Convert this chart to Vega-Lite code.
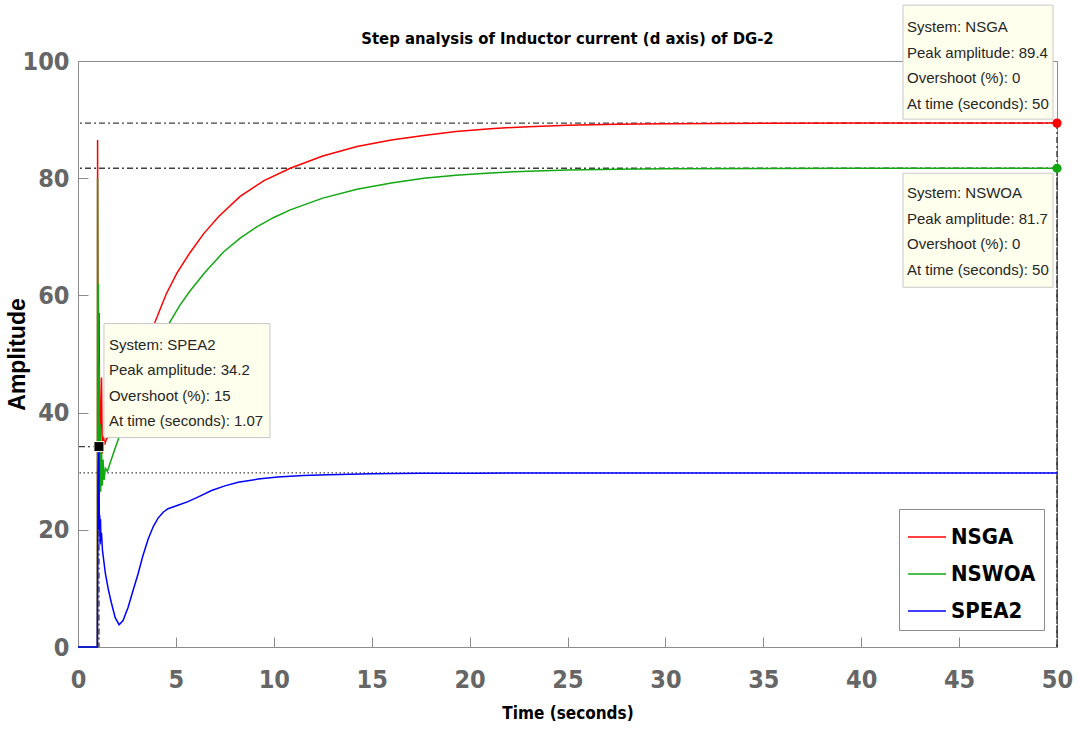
{
  "$schema": "https://vega.github.io/schema/vega-lite/v6.json",
  "width": 979,
  "height": 586,
  "autosize": {"type": "none"},
  "padding": {"left": 78, "top": 61, "right": 21, "bottom": 84},
  "background": "white",
  "title": {
    "text": "Step analysis of Inductor current (d axis) of DG-2",
    "font": "DejaVu Sans Condensed, Roboto Condensed, Liberation Sans Narrow, Liberation Sans, sans-serif",
    "fontSize": 16.5,
    "fontWeight": "bold",
    "color": "black",
    "baseline": "alphabetic",
    "offset": -57
  },
  "datasets": {
    "curves": [
      {"s": "NSGA", "t": 0, "v": 0},
      {"s": "NSGA", "t": 0.99, "v": 0},
      {"s": "NSGA", "t": 1.0, "v": 86.5},
      {"s": "NSGA", "t": 1.04, "v": 30},
      {"s": "NSGA", "t": 1.08, "v": 57},
      {"s": "NSGA", "t": 1.11, "v": 31},
      {"s": "NSGA", "t": 1.2, "v": 46},
      {"s": "NSGA", "t": 1.24, "v": 33},
      {"s": "NSGA", "t": 1.3, "v": 36},
      {"s": "NSGA", "t": 1.36, "v": 34.5},
      {"s": "NSGA", "t": 1.45, "v": 35.5},
      {"s": "NSGA", "t": 1.6, "v": 36},
      {"s": "NSGA", "t": 1.8, "v": 37.5},
      {"s": "NSGA", "t": 2.0, "v": 39.2},
      {"s": "NSGA", "t": 2.3, "v": 41.8},
      {"s": "NSGA", "t": 2.6, "v": 44.5},
      {"s": "NSGA", "t": 3.0, "v": 48},
      {"s": "NSGA", "t": 3.4, "v": 51.5},
      {"s": "NSGA", "t": 3.94, "v": 55.5},
      {"s": "NSGA", "t": 4.5, "v": 60.2},
      {"s": "NSGA", "t": 5.05, "v": 63.8},
      {"s": "NSGA", "t": 5.7, "v": 67.2},
      {"s": "NSGA", "t": 6.41, "v": 70.5},
      {"s": "NSGA", "t": 7.2, "v": 73.5},
      {"s": "NSGA", "t": 8.28, "v": 76.9},
      {"s": "NSGA", "t": 9.5, "v": 79.6},
      {"s": "NSGA", "t": 10.84, "v": 81.7},
      {"s": "NSGA", "t": 12.5, "v": 83.8},
      {"s": "NSGA", "t": 14.25, "v": 85.4},
      {"s": "NSGA", "t": 16, "v": 86.5},
      {"s": "NSGA", "t": 17.65, "v": 87.3},
      {"s": "NSGA", "t": 19.3, "v": 87.95},
      {"s": "NSGA", "t": 21.06, "v": 88.45},
      {"s": "NSGA", "t": 23, "v": 88.8},
      {"s": "NSGA", "t": 25, "v": 89.05},
      {"s": "NSGA", "t": 27.5, "v": 89.22},
      {"s": "NSGA", "t": 30, "v": 89.3},
      {"s": "NSGA", "t": 35, "v": 89.37},
      {"s": "NSGA", "t": 40, "v": 89.4},
      {"s": "NSGA", "t": 45, "v": 89.4},
      {"s": "NSGA", "t": 50, "v": 89.4},
      {"s": "NSWOA", "t": 0, "v": 0},
      {"s": "NSWOA", "t": 0.99, "v": 0},
      {"s": "NSWOA", "t": 1.0, "v": 80},
      {"s": "NSWOA", "t": 1.02, "v": 26},
      {"s": "NSWOA", "t": 1.04, "v": 62},
      {"s": "NSWOA", "t": 1.06, "v": 27},
      {"s": "NSWOA", "t": 1.08, "v": 48},
      {"s": "NSWOA", "t": 1.1, "v": 28},
      {"s": "NSWOA", "t": 1.13, "v": 38},
      {"s": "NSWOA", "t": 1.16, "v": 26.5},
      {"s": "NSWOA", "t": 1.2, "v": 34},
      {"s": "NSWOA", "t": 1.24, "v": 27.5},
      {"s": "NSWOA", "t": 1.28, "v": 32},
      {"s": "NSWOA", "t": 1.33, "v": 28.5},
      {"s": "NSWOA", "t": 1.4, "v": 30.5},
      {"s": "NSWOA", "t": 1.5, "v": 30},
      {"s": "NSWOA", "t": 1.7, "v": 32},
      {"s": "NSWOA", "t": 2.0, "v": 34.9},
      {"s": "NSWOA", "t": 2.5, "v": 39.7},
      {"s": "NSWOA", "t": 3.0, "v": 43.9},
      {"s": "NSWOA", "t": 3.5, "v": 47.8},
      {"s": "NSWOA", "t": 4.0, "v": 51.2},
      {"s": "NSWOA", "t": 4.7, "v": 55.5},
      {"s": "NSWOA", "t": 5.2, "v": 58.3},
      {"s": "NSWOA", "t": 5.73, "v": 60.8},
      {"s": "NSWOA", "t": 6.5, "v": 64.0},
      {"s": "NSWOA", "t": 7.43, "v": 67.4},
      {"s": "NSWOA", "t": 8.3, "v": 69.8},
      {"s": "NSWOA", "t": 9.13, "v": 71.7},
      {"s": "NSWOA", "t": 10.0, "v": 73.3},
      {"s": "NSWOA", "t": 10.84, "v": 74.6},
      {"s": "NSWOA", "t": 12.5, "v": 76.6},
      {"s": "NSWOA", "t": 14.25, "v": 78.1},
      {"s": "NSWOA", "t": 16, "v": 79.2},
      {"s": "NSWOA", "t": 17.65, "v": 80.0},
      {"s": "NSWOA", "t": 19.3, "v": 80.5},
      {"s": "NSWOA", "t": 21.06, "v": 80.9},
      {"s": "NSWOA", "t": 23, "v": 81.2},
      {"s": "NSWOA", "t": 25, "v": 81.4},
      {"s": "NSWOA", "t": 27.5, "v": 81.52},
      {"s": "NSWOA", "t": 30, "v": 81.6},
      {"s": "NSWOA", "t": 35, "v": 81.67},
      {"s": "NSWOA", "t": 40, "v": 81.7},
      {"s": "NSWOA", "t": 50, "v": 81.7},
      {"s": "SPEA2", "t": 0, "v": 0},
      {"s": "SPEA2", "t": 0.99, "v": 0},
      {"s": "SPEA2", "t": 1.02, "v": 28},
      {"s": "SPEA2", "t": 1.05, "v": 33},
      {"s": "SPEA2", "t": 1.07, "v": 34.2},
      {"s": "SPEA2", "t": 1.09, "v": 20},
      {"s": "SPEA2", "t": 1.11, "v": 22.5},
      {"s": "SPEA2", "t": 1.13, "v": 17.5},
      {"s": "SPEA2", "t": 1.15, "v": 21.8},
      {"s": "SPEA2", "t": 1.17, "v": 18},
      {"s": "SPEA2", "t": 1.2, "v": 19.5},
      {"s": "SPEA2", "t": 1.25, "v": 16.5},
      {"s": "SPEA2", "t": 1.4, "v": 12.5},
      {"s": "SPEA2", "t": 1.55, "v": 9.8},
      {"s": "SPEA2", "t": 1.7, "v": 7.6},
      {"s": "SPEA2", "t": 1.9, "v": 5.0},
      {"s": "SPEA2", "t": 2.1, "v": 3.8},
      {"s": "SPEA2", "t": 2.3, "v": 4.5},
      {"s": "SPEA2", "t": 2.56, "v": 6.8},
      {"s": "SPEA2", "t": 2.8, "v": 9.5},
      {"s": "SPEA2", "t": 3.07, "v": 12.5},
      {"s": "SPEA2", "t": 3.3, "v": 15.4},
      {"s": "SPEA2", "t": 3.58, "v": 18.4},
      {"s": "SPEA2", "t": 3.85, "v": 20.6},
      {"s": "SPEA2", "t": 4.09, "v": 22.0},
      {"s": "SPEA2", "t": 4.35, "v": 23.0},
      {"s": "SPEA2", "t": 4.6, "v": 23.6},
      {"s": "SPEA2", "t": 5.1, "v": 24.2},
      {"s": "SPEA2", "t": 5.62, "v": 24.8},
      {"s": "SPEA2", "t": 6.2, "v": 25.7},
      {"s": "SPEA2", "t": 6.82, "v": 26.7},
      {"s": "SPEA2", "t": 7.5, "v": 27.5},
      {"s": "SPEA2", "t": 8.18, "v": 28.1},
      {"s": "SPEA2", "t": 9.2, "v": 28.65},
      {"s": "SPEA2", "t": 10.2, "v": 29.0},
      {"s": "SPEA2", "t": 11.5, "v": 29.25},
      {"s": "SPEA2", "t": 12.8, "v": 29.4},
      {"s": "SPEA2", "t": 15, "v": 29.55},
      {"s": "SPEA2", "t": 17.5, "v": 29.63},
      {"s": "SPEA2", "t": 20, "v": 29.67},
      {"s": "SPEA2", "t": 25, "v": 29.7},
      {"s": "SPEA2", "t": 30, "v": 29.7},
      {"s": "SPEA2", "t": 40, "v": 29.7},
      {"s": "SPEA2", "t": 50, "v": 29.7}
    ],
    "annot": [
      {"system": "NSGA", "peak": 89.4, "overshoot": 0, "time": 50},
      {"system": "NSWOA", "peak": 81.7, "overshoot": 0, "time": 50},
      {"system": "SPEA2", "peak": 34.2, "overshoot": 15, "time": 1.07}
    ],
    "steady": [
      {"system": "SPEA2", "final": 29.7}
    ]
  },
  "layer": [
    {
      "data": {"name": "annot"},
      "transform": [{"filter": "datum.system !== 'SPEA2'"}],
      "mark": {"type": "rule", "color": "#404040", "strokeWidth": 1.3, "strokeDash": [6, 3, 2, 3]},
      "encoding": {
        "y": {"field": "peak", "type": "quantitative"}
      }
    },
    {
      "data": {"name": "annot"},
      "transform": [{"filter": "datum.system === 'SPEA2'"}],
      "mark": {"type": "rule", "color": "#404040", "strokeWidth": 1.3, "strokeDash": [6, 3, 2, 3]},
      "encoding": {
        "x": {"field": "time", "type": "quantitative"},
        "x2": {"datum": 0},
        "y": {"field": "peak", "type": "quantitative"}
      }
    },
    {
      "data": {"name": "annot"},
      "mark": {"type": "rule", "color": "#303030", "strokeWidth": 1.3, "strokeDash": [6, 3, 2, 3]},
      "encoding": {
        "x": {"field": "time", "type": "quantitative"},
        "y": {"field": "peak", "type": "quantitative"},
        "y2": {"datum": 0}
      }
    },
    {
      "data": {"name": "steady"},
      "mark": {"type": "rule", "color": "#404040", "strokeWidth": 1.3, "strokeDash": [1.5, 2.5]},
      "encoding": {
        "y": {"field": "final", "type": "quantitative"}
      }
    },
    {
      "data": {"name": "curves"},
      "mark": {"type": "line", "strokeWidth": 1.5},
      "encoding": {
        "x": {"field": "t", "type": "quantitative", "scale": {"domain": [0, 50], "nice": false},
              "axis": {"title": "Time (seconds)", "values": [0,5,10,15,20,25,30,35,40,45,50],
                       "labelPadding": 30, "labelFlush": false, "titleFontSize": 17, "titleY": 58, "titleBaseline": "top"}},
        "y": {"field": "v", "type": "quantitative", "scale": {"domain": [0, 100], "nice": false},
              "axis": {"title": "Amplitude", "values": [0,20,40,60,80,100],
                       "labelPadding": 19, "labelFlush": false, "titleFont": "Liberation Sans, Arial, sans-serif", "titleFontSize": 23,
                       "titleX": -61, "titleBaseline": "middle"}},
        "color": {"field": "s", "type": "nominal",
                  "scale": {"domain": ["NSGA", "NSWOA", "SPEA2"], "range": ["#ff0000", "#12a812", "#0000ff"]},
                  "legend": {"title": null, "orient": "none", "legendX": 821, "legendY": 448}}
      }
    },
    {
      "data": {"name": "annot"},
      "transform": [{"filter": "datum.system === 'NSGA'"}],
      "mark": {"type": "point", "shape": "circle", "filled": true, "size": 85, "color": "#ff0000", "opacity": 1},
      "encoding": {
        "x": {"field": "time", "type": "quantitative"},
        "y": {"field": "peak", "type": "quantitative"}
      }
    },
    {
      "data": {"name": "annot"},
      "transform": [{"filter": "datum.system === 'NSWOA'"}],
      "mark": {"type": "point", "shape": "circle", "filled": true, "size": 85, "color": "#12a812", "opacity": 1},
      "encoding": {
        "x": {"field": "time", "type": "quantitative"},
        "y": {"field": "peak", "type": "quantitative"}
      }
    },
    {
      "data": {"name": "annot"},
      "transform": [{"filter": "datum.system === 'SPEA2'"}],
      "mark": {"type": "point", "shape": "square", "filled": true, "size": 100, "fill": "#000000", "stroke": "#fffff0", "strokeWidth": 1, "opacity": 1},
      "encoding": {
        "x": {"field": "time", "type": "quantitative"},
        "y": {"field": "peak", "type": "quantitative"}
      }
    },
    {
      "data": {"name": "annot"},
      "transform": [{"filter": "datum.system === 'NSGA'"}],
      "mark": {"type": "point", "shape": "M -154 -118 H -4 V -4 H -154 Z", "size": 4, "filled": true, "fill": "#ffffee", "stroke": "#c8c8c8", "strokeWidth": 1, "opacity": 1},
      "encoding": {
        "x": {"field": "time", "type": "quantitative"},
        "y": {"field": "peak", "type": "quantitative"}
      }
    },
    {
      "data": {"name": "annot"},
      "transform": [{"filter": "datum.system === 'NSWOA'"}],
      "mark": {"type": "point", "shape": "M -154 5 H -4 V 119 H -154 Z", "size": 4, "filled": true, "fill": "#ffffee", "stroke": "#c8c8c8", "strokeWidth": 1, "opacity": 1},
      "encoding": {
        "x": {"field": "time", "type": "quantitative"},
        "y": {"field": "peak", "type": "quantitative"}
      }
    },
    {
      "data": {"name": "annot"},
      "transform": [{"filter": "datum.system === 'SPEA2'"}],
      "mark": {"type": "point", "shape": "M 5 -123 H 171 V -9 H 5 Z", "size": 4, "filled": true, "fill": "#ffffee", "stroke": "#c8c8c8", "strokeWidth": 1, "opacity": 1},
      "encoding": {
        "x": {"field": "time", "type": "quantitative"},
        "y": {"field": "peak", "type": "quantitative"}
      }
    },
    {
      "data": {"name": "annot"},
      "transform": [
        {"filter": "datum.system === 'NSGA'"},
        {"calculate": "'System: ' + datum.system + '\\n' + 'Peak amplitude: ' + datum.peak + '\\n' + 'Overshoot (%): ' + datum.overshoot + '\\n' + 'At time (seconds): ' + datum.time", "as": "label"}
      ],
      "mark": {"type": "text", "align": "left", "baseline": "top", "dx": -150, "dy": -103, "lineBreak": "\n", "lineHeight": 25.5,
               "font": "Liberation Sans, Arial, sans-serif", "fontSize": 15, "color": "#262626"},
      "encoding": {
        "x": {"field": "time", "type": "quantitative"},
        "y": {"field": "peak", "type": "quantitative"},
        "text": {"field": "label", "type": "nominal"}
      }
    },
    {
      "data": {"name": "annot"},
      "transform": [
        {"filter": "datum.system === 'NSWOA'"},
        {"calculate": "'System: ' + datum.system + '\\n' + 'Peak amplitude: ' + datum.peak + '\\n' + 'Overshoot (%): ' + datum.overshoot + '\\n' + 'At time (seconds): ' + datum.time", "as": "label"}
      ],
      "mark": {"type": "text", "align": "left", "baseline": "top", "dx": -150, "dy": 18, "lineBreak": "\n", "lineHeight": 25.5,
               "font": "Liberation Sans, Arial, sans-serif", "fontSize": 15, "color": "#262626"},
      "encoding": {
        "x": {"field": "time", "type": "quantitative"},
        "y": {"field": "peak", "type": "quantitative"},
        "text": {"field": "label", "type": "nominal"}
      }
    },
    {
      "data": {"name": "annot"},
      "transform": [
        {"filter": "datum.system === 'SPEA2'"},
        {"calculate": "'System: ' + datum.system + '\\n' + 'Peak amplitude: ' + datum.peak + '\\n' + 'Overshoot (%): ' + datum.overshoot + '\\n' + 'At time (seconds): ' + datum.time", "as": "label"}
      ],
      "mark": {"type": "text", "align": "left", "baseline": "top", "dx": 10, "dy": -109, "lineBreak": "\n", "lineHeight": 25.5,
               "font": "Liberation Sans, Arial, sans-serif", "fontSize": 15, "color": "#262626"},
      "encoding": {
        "x": {"field": "time", "type": "quantitative"},
        "y": {"field": "peak", "type": "quantitative"},
        "text": {"field": "label", "type": "nominal"}
      }
    }
  ],
  "config": {
    "view": {"stroke": "#8c8c8c"},
    "axis": {
      "domainColor": "#8c8c8c",
      "domainWidth": 1,
      "tickColor": "#8c8c8c",
      "tickSize": -10,
      "tickWidth": 1,
      "grid": false,
      "labelFont": "DejaVu Sans Condensed, Roboto Condensed, Liberation Sans Narrow, Liberation Sans, sans-serif",
      "labelFontWeight": "bold",
      "labelFontSize": 25,
      "labelColor": "#666666",
      "titleFont": "DejaVu Sans Condensed, Roboto Condensed, Liberation Sans Narrow, Liberation Sans, sans-serif",
      "titleFontWeight": "bold",
      "titleColor": "black"
    },
    "legend": {
      "strokeColor": "#8c8c8c",
      "fillColor": "white",
      "padding": 8,
      "cornerRadius": 0,
      "symbolType": "stroke",
      "symbolSize": 1444,
      "symbolStrokeWidth": 1.5,
      "labelFont": "DejaVu Sans Condensed, Roboto Condensed, Liberation Sans Narrow, Liberation Sans, sans-serif",
      "labelFontWeight": "bold",
      "labelFontSize": 22,
      "labelColor": "black",
      "labelOffset": 4,
      "rowPadding": 6
    }
  }
}
